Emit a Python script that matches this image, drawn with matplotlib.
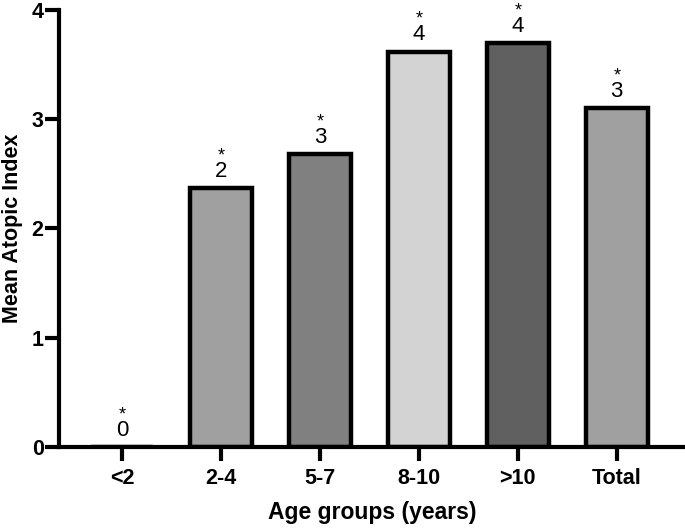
import matplotlib.pyplot as plt

plt.rcParams['font.family'] = ['Liberation Sans', 'DejaVu Sans']

# Data
groups = ["<2", "2-4", "5-7", "8-10", ">10", "Total"]
mean_index = [0.0, 2.37, 2.68, 3.62, 3.70, 3.10]
bar_labels = ["0", "2", "3", "4", "4", "3"]
bar_colors = ["#ffffff", "#a0a0a0", "#808080", "#d3d3d3", "#606060", "#a0a0a0"]

fig = plt.figure(figsize=(6.85, 5.3), dpi=100)
ax = fig.add_axes([0.086, 0.157, 0.914, 0.824])

x = range(len(groups))
ax.bar(x, mean_index, width=0.63, color=bar_colors, edgecolor="black", linewidth=3.2)

# value labels with asterisk above
for xi, v, lab in zip(x, mean_index, bar_labels):
    ax.annotate(lab, (xi, v), xytext=(0, 8), textcoords="offset points",
                ha="center", va="baseline", fontsize=16)
    ax.annotate("*", (xi, v), xytext=(0, 20), textcoords="offset points",
                ha="center", va="baseline", fontsize=13)

ax.set_xlim(-0.64, 5.69)
ax.set_ylim(0, 4)
ax.set_yticks([0, 1, 2, 3, 4])
ax.set_xticks(list(x))
ax.set_xticklabels(groups)

for side in ["top", "right"]:
    ax.spines[side].set_visible(False)
for side in ["left", "bottom"]:
    ax.spines[side].set_linewidth(3)
ax.tick_params(axis="both", width=3, length=10, labelsize=15.5)
ax.tick_params(axis="x", pad=5)
ax.tick_params(axis="y", pad=1)
for t in ax.get_xticklabels() + ax.get_yticklabels():
    t.set_fontweight("bold")

ax.set_ylabel("Mean Atopic Index", fontsize=15.5, fontweight="bold", labelpad=6)
ax.set_xlabel("Age groups (years)", fontsize=16.5, fontweight="bold", labelpad=9)

fig.savefig("out.png", dpi=100)
